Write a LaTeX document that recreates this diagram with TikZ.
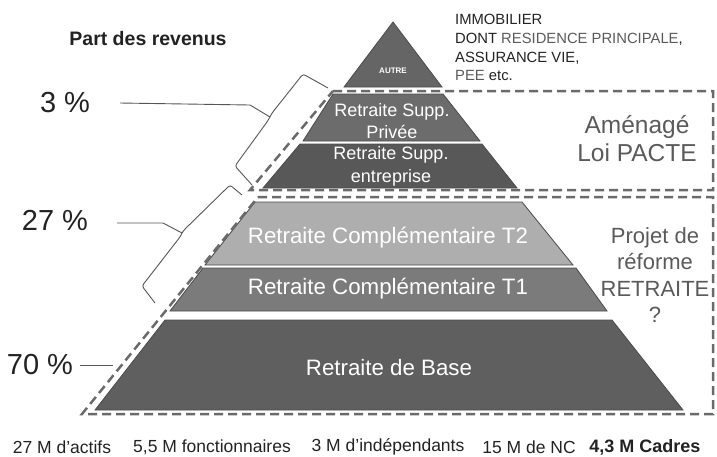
\documentclass[tikz,border=0pt]{standalone}
\usepackage{fontspec}
\setmainfont{Liberation Sans}
\definecolor{dashgray}{HTML}{6A6A6A}
\definecolor{tierline}{HTML}{4A4A4A}
\definecolor{cautre}{HTML}{656565}
\definecolor{cprivee}{HTML}{6C6C6C}
\definecolor{centreprise}{HTML}{585858}
\definecolor{ctdeux}{HTML}{AEAEAE}
\definecolor{ctun}{HTML}{7B7B7B}
\definecolor{cbase}{HTML}{5F5F5F}
\definecolor{textdark}{HTML}{222222}
\definecolor{textgray}{HTML}{5A5A5A}
\definecolor{braceline}{HTML}{555555}
\begin{document}
\begin{tikzpicture}[x=1pt,y=-1pt,
  tier/.style={fill=#1, draw=tierline, line width=0.8pt},
  tiertext/.style={text=white, align=center, inner sep=0pt},
  dashbox/.style={draw=dashgray, line width=2.5pt, dash pattern=on 9pt off 5pt},
  bracestyle/.style={draw=braceline, line width=0.9pt, rounded corners=2.5pt},
  pct/.style={font=\fontsize{29}{31}\selectfont, text=textdark, inner sep=0pt},
  bottomtext/.style={font=\fontsize{17.5}{19}\selectfont, text=textdark, inner sep=0pt},
  infotext/.style={font=\fontsize{14.8}{16}\selectfont, inner sep=0pt, anchor=base west}]
\useasboundingbox (0,0) rectangle (717,456);

% tiers
\path[tier=cautre] (393,22) -- (442,87) -- (344,87) -- cycle;
\path[tier=cprivee] (333,94) -- (443,94) -- (480,141) -- (303,141) -- cycle;
\path[tier=centreprise] (300,144) -- (482,144) -- (517,188) -- (263,188) -- cycle;
\path[tier=ctdeux] (255,202) -- (522,202) -- (573,265) -- (205,265) -- cycle;
\path[tier=ctun] (203,268) -- (576,268) -- (607,311) -- (170,311) -- cycle;
\path[tier=cbase] (165,320) -- (612,320) -- (683,410) -- (95,410) -- cycle;

% dashed zones
\draw[dashbox] (333,91) -- (713,91) -- (713,190) -- (250,190) -- cycle;
\draw[dashbox] (258,197) -- (713,197) -- (713,414) -- (82,414) -- cycle;

% tier labels
\node[tiertext, font=\bfseries\fontsize{8}{9}\selectfont] (autre) at (393,71) {AUTRE};
\node[tiertext, font=\fontsize{18}{21.5}\selectfont] (privee) at (392,121) {Retraite Supp.\\Privée};
\node[tiertext, font=\fontsize{18}{23}\selectfont] (entreprise) at (391,166) {Retraite Supp.\\entreprise};
\node[tiertext, font=\fontsize{22.3}{24}\selectfont] (tdeux) at (388,238) {Retraite Complémentaire T2};
\node[tiertext, font=\fontsize{22.3}{24}\selectfont] (tun) at (388,289) {Retraite Complémentaire T1};
\node[tiertext, font=\fontsize{22.3}{24}\selectfont] (base) at (389,368) {Retraite de Base};

% side texts
\node[text=textgray, align=center, inner sep=0pt, font=\fontsize{24.5}{28}\selectfont] (pacte) at (637,139) {Aménagé\\Loi PACTE};
\node[text=textgray, align=center, inner sep=0pt, font=\fontsize{22}{26.5}\selectfont] (reforme) at (655,275) {Projet de\\réforme\\RETRAITE\\?};

\node[font=\bfseries\fontsize{19.5}{22}\selectfont, text=textdark, inner sep=0pt] (title) at (148,39) {Part des revenus};

\node[infotext, text=textdark] (info1) at (455,24) {IMMOBILIER};
\node[infotext] (info2) at (455,43) {\textcolor{textdark}{DONT} \textcolor{textgray}{RESIDENCE PRINCIPALE}\textcolor{textdark}{,}};
\node[infotext, text=textdark] (info3) at (455,62) {ASSURANCE VIE,};
\node[infotext] (info4) at (455,80) {\textcolor{textgray}{PEE} \textcolor{textdark}{etc.}};

% percentages
\node[pct] (p3) at (65,103) {3 \%};
\node[pct] (p27) at (55,220) {27 \%};
\node[pct] (p70) at (40,365) {70 \%};

% braces
\coordinate (b3tip) at (270,117);
\coordinate (b27tip) at (182,233);
\draw[bracestyle] (328,88) -- (303,74) -- (272,113) -- (b3tip) -- (267,122) -- (235,166) -- (252,185);
\draw[bracestyle] (242,195) -- (230,185) -- (184,230) -- (b27tip) -- (180,237) -- (142,286) -- (155,303);

% connectors
\coordinate (l3) at (120,103);
\coordinate (l27) at (117,223);
\coordinate (l70a) at (80,365);
\coordinate (l70b) at (113,365);
\draw[draw=braceline, line width=0.9pt] (l3) -- (250,105) -- (b3tip);
\draw[draw=braceline, line width=0.9pt] (l27) -- (163,223) -- (b27tip);
\draw[draw=braceline, line width=0.9pt] (l70a) -- (l70b);

% bottom labels
\node[bottomtext] (actifs) at (62,447) {27 M d’actifs};
\node[bottomtext] (fonct) at (212,447) {5,5 M fonctionnaires};
\node[bottomtext] (indep) at (388,447) {3 M d’indépendants};
\node[bottomtext] (nc) at (529,447) {15 M de NC};
\node[bottomtext, font=\bfseries\fontsize{18}{19}\selectfont] (cadres) at (645,447) {4,3 M Cadres};
\end{tikzpicture}
\end{document}
